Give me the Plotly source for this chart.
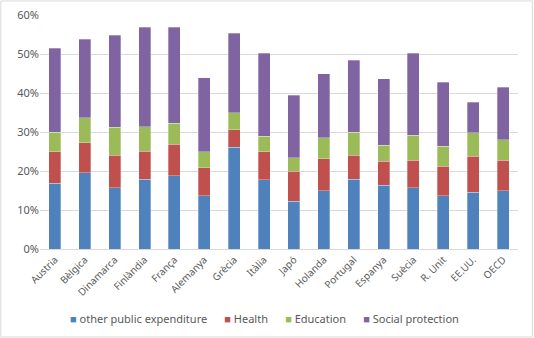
import plotly.graph_objects as go

countries = ["Austria", "Bèlgica", "Dinamarca", "Finlàndia", "França", "Alemanya", "Grècia",
             "Itàlia", "Japó", "Holanda", "Portugal", "Espanya", "Suècia", "R. Unit", "EE.UU.", "OECD"]
# segment heights (%)
other = [16.9, 19.6, 15.7, 17.9, 18.8, 13.7, 26.1, 17.8, 12.2, 15.0, 17.9, 16.3, 15.7, 13.6, 14.6, 15.0]
health = [8.1, 7.6, 8.4, 7.2, 8.1, 7.1, 4.5, 7.2, 7.7, 8.1, 6.2, 6.2, 7.1, 7.6, 9.2, 7.8]
education = [4.9, 6.4, 7.1, 6.3, 5.4, 4.2, 4.3, 3.9, 3.5, 5.4, 5.9, 4.1, 6.4, 5.1, 6.0, 5.2]
social = [21.6, 20.2, 23.6, 25.4, 24.5, 18.9, 20.4, 21.3, 16.0, 16.5, 18.4, 17.1, 21.0, 16.4, 7.8, 13.5]

series = [("other public expenditure", other, "#4F81BD"),
          ("Health", health, "#C0504D"),
          ("Education", education, "#9BBB59"),
          ("Social protection", social, "#8064A2")]

fig = go.Figure()
for name, vals, col in series:
    fig.add_trace(go.Bar(x=countries, y=[v / 100 for v in vals], name=name, showlegend=False,
                         marker=dict(color=col, line=dict(color="rgba(255,255,255,0.6)", width=0.5))))

legend_text = "      ".join(
    f"<span style='color:{col}'>■</span> {name}" for name, _, col in series)

fig.update_layout(
    barmode="stack",
    bargap=0.6,
    width=534, height=338,
    margin=dict(l=40, r=16, t=15, b=89, autoexpand=False),
    paper_bgcolor="white", plot_bgcolor="white",
    font=dict(family="Noto Sans, sans-serif", color="#595959", size=11),
    xaxis=dict(tickangle=-45, tickfont=dict(size=10, color="#595959"), showline=True,
               linecolor="#D9D9D9", linewidth=1, ticks="", fixedrange=True, automargin=False),
    yaxis=dict(range=[0, 0.6], dtick=0.1, tickformat=".0%", gridcolor="#D9D9D9",
               gridwidth=1, zeroline=False, tickfont=dict(size=11, color="#595959"),
               fixedrange=True, automargin=False),
    annotations=[dict(text=legend_text, xref="paper", yref="paper", x=0.47, y=-0.295,
                      xanchor="center", yanchor="middle", showarrow=False,
                      font=dict(size=11, color="#595959"))],
    shapes=[dict(type="rect", xref="paper", yref="paper", x0=-0.082, x1=1.03, y0=-0.376, y1=1.06,
                 line=dict(color="#D9D9D9", width=1))],
)

fig.write_html("out.html")
